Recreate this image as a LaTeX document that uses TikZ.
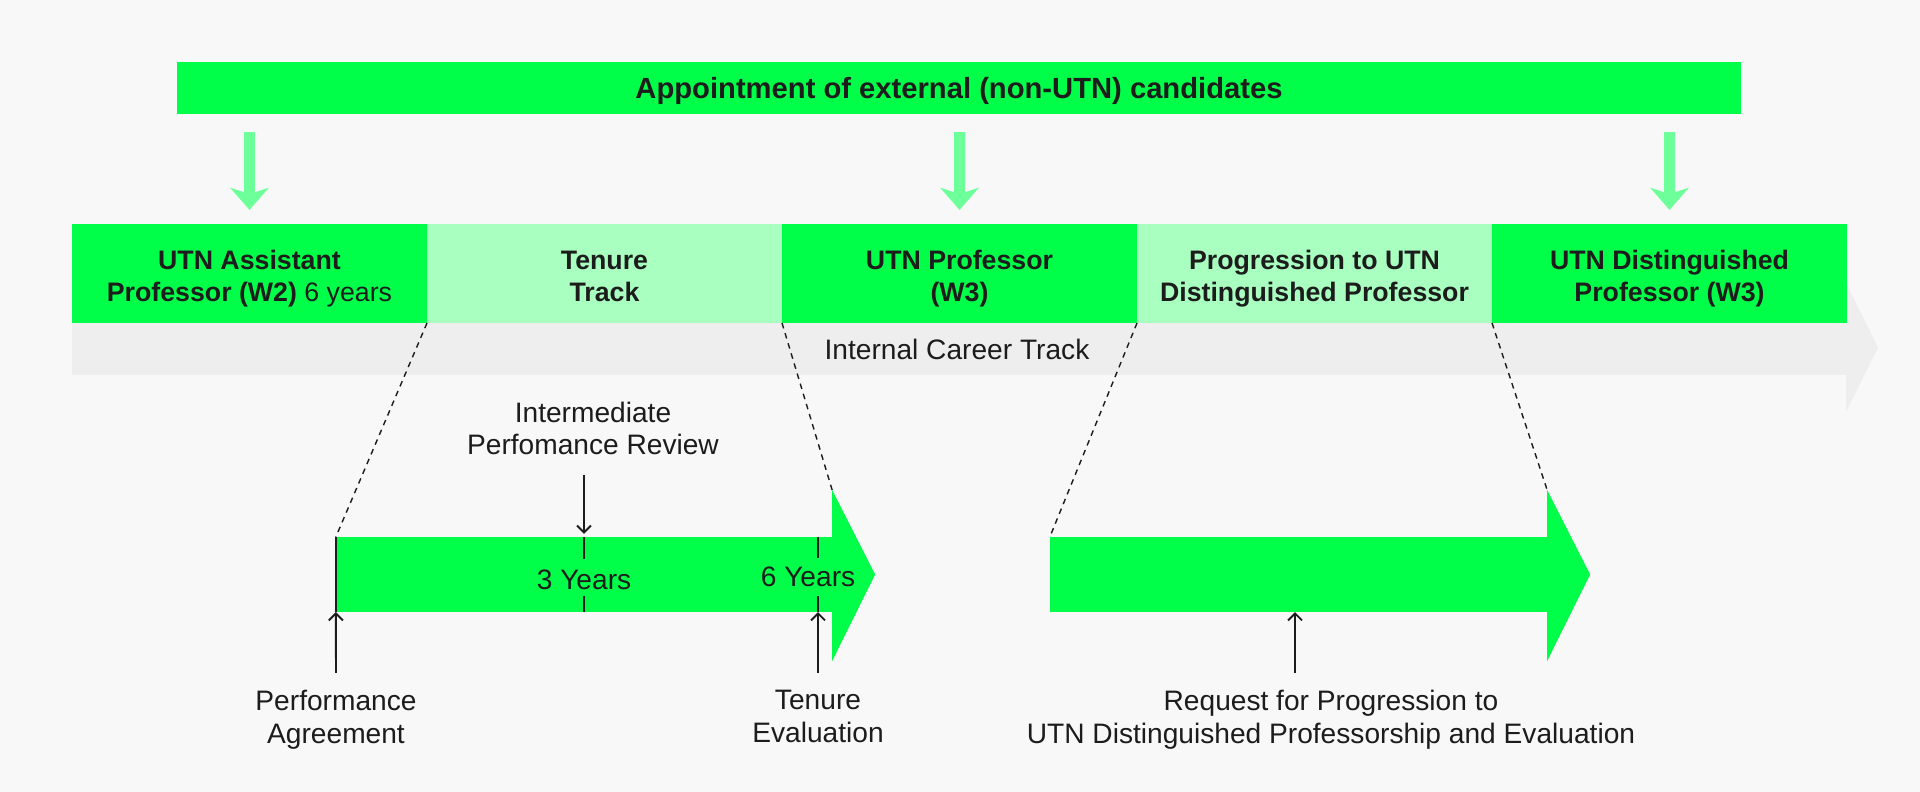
\documentclass[tikz,border=0pt]{standalone}
\usepackage{fontspec}
\setmainfont{Liberation Sans}
\usepackage{xcolor}
\usetikzlibrary{arrows.meta, positioning, calc}

\definecolor{utngreen}{HTML}{00FF48}
\definecolor{utnpale}{HTML}{A8FFC0}
\definecolor{utnarrow}{HTML}{6CFF9A}
\definecolor{trackgray}{HTML}{EEEEEE}
\definecolor{pagebg}{HTML}{F8F8F8}
\definecolor{ink}{HTML}{1C1C1C}

\begin{document}
\begin{tikzpicture}[
    x=0.01cm, y=-0.01cm,
    node distance=0pt,
    every node/.style={text=ink, outer sep=0pt},
    stage/.style={rectangle, fill=utngreen, minimum width=3.548cm, minimum height=0.99cm, inner sep=0pt, text height=15.8pt, text depth=0pt, align=center, font=\fontsize{7.6pt}{9.1pt}\selectfont\bfseries},
    bar/.style={rectangle, fill=utngreen, minimum height=0.75cm, inner sep=0pt},
    note/.style={inner sep=0pt, align=center, font=\fontsize{8pt}{9.3pt}\selectfont},
    dnarrow/.style={utnarrow, line width=0.107cm, shorten <=0.18cm, shorten >=0.14cm, -{Stealth[length=0.22cm, width=0.38cm, inset=0.06cm]}},
    zoomline/.style={ink, line width=0.4pt, dash pattern=on 1.6pt off 1.4pt},
    tick/.style={ink, line width=0.55pt},
    ptr/.style={ink, line width=0.55pt, -{Straight Barb[length=2pt, width=4pt]}}
]

% Page
\fill[pagebg] (0,0) rectangle (1920,792);

% Internal career track
\fill[trackgray] (72,320) -- (1846,320) -- (1846,283) -- (1878,347.5) -- (1846,412) -- (1846,375) -- (72,375) -- cycle;
\node[note] (ict) at (957,349) {Internal Career Track};

% External appointments
\node[rectangle, fill=utngreen, minimum width=15.64cm, minimum height=0.52cm, inner sep=0pt, text height=5.7pt, text depth=0pt, font=\fontsize{8.3pt}{9.1pt}\selectfont\bfseries] (ext) at (959,88) {Appointment of external (non-UTN) candidates};

% Career stages
\node[stage] (b1) at (249.5,273.5) {UTN Assistant\\Professor (W2) {\mdseries 6 years}};
\node[stage, fill=utnpale, right=of b1] (b2) {Tenure\\Track};
\node[stage, right=of b2] (b3) {UTN Professor\\(W3)};
\node[stage, fill=utnpale, right=of b3] (b4) {Progression to UTN\\Distinguished Professor};
\node[stage, right=of b4] (b5) {UTN Distinguished\\Professor (W3)};

\draw[dnarrow] (b1.north |- ext.south) -- (b1.north);
\draw[dnarrow] (b3.north |- ext.south) -- (b3.north);
\draw[dnarrow] (b5.north |- ext.south) -- (b5.north);

% Tenure track detail
\node[bar, minimum width=4.96cm] (tt1) at (584,574.5) {};
\fill[utngreen] (tt1.north east) -- ++(0,-47) coordinate (h1) -- ($(tt1.east)+(43,0)$) -- ($(tt1.south east)+(0,49)$) -- cycle;
\draw[zoomline] (b2.south west) -- (tt1.north west);
\draw[zoomline] (b2.south east) -- (h1);
\draw[tick] (tt1.north west) -- (tt1.south west);

\coordinate (y3) at (584,574.5);
\coordinate (y6) at (818,574.5);
\draw[tick] (y3 |- tt1.north) -- ++(0,22);
\draw[tick] (y3 |- tt1.south) -- ++(0,-16);
\node[note] (n3) at (584,580) {3 Years};
\draw[tick] (y6 |- tt1.north) -- ++(0,21);
\draw[tick] (y6 |- tt1.south) -- ++(0,-16);
\node[note] (n6) at (808,577) {6 Years};

\node[note, anchor=south] (ipr) at (593,455) {Intermediate\\Perfomance Review};
\draw[ptr] ($(y3 |- ipr.south)+(0,20)$) -- ($(y3 |- tt1.north)+(0,-3)$);
\node[note, anchor=north] (pa) at (336,690) {Performance\\Agreement};
\draw[ptr] ($(pa.north)+(0,-17)$) -- (tt1.south west);
\node[note, anchor=north] (te) at (818,690) {Tenure\\Evaluation};
\draw[ptr] ($(te.north)+(0,-17)$) -- (y6 |- tt1.south);

% Progression detail
\node[bar, minimum width=4.97cm] (tt2) at (1298.5,574.5) {};
\fill[utngreen] (tt2.north east) -- ++(0,-47) coordinate (h2) -- ($(tt2.east)+(43,0)$) -- ($(tt2.south east)+(0,49)$) -- cycle;
\draw[zoomline] (b4.south west) -- (tt2.north west);
\draw[zoomline] (b4.south east) -- (h2);

\node[note, anchor=north] (rq) at (1331,690) {Request for Progression to\\UTN Distinguished Professorship and Evaluation};
\coordinate (rqx) at (1295,574.5);
\draw[ptr] ($(rqx |- rq.north)+(0,-17)$) -- (rqx |- tt2.south);

\end{tikzpicture}
\end{document}
